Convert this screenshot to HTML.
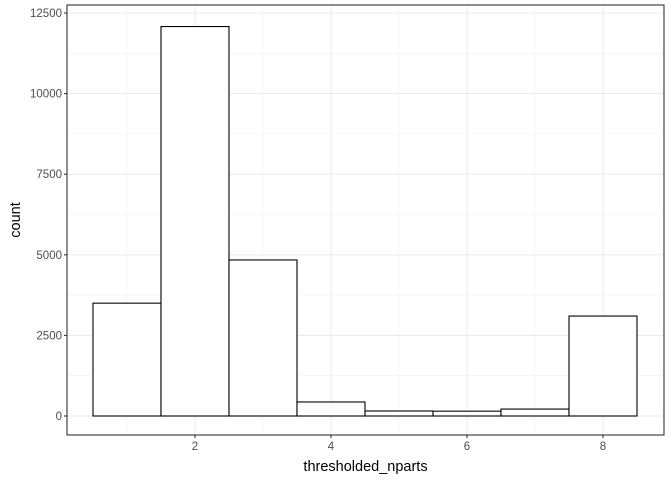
<!DOCTYPE html>
<html><head><meta charset="utf-8"><style>
html,body{margin:0;padding:0;background:#fff;}
svg{display:block;font-family:"Liberation Sans",Arial,sans-serif;}
</style></head><body>
<svg id="chart" width="672" height="480"></svg>
<script>
const categories = [1,2,3,4,5,6,7,8];
const counts = [3500,12080,4840,435,155,150,215,3100];
const yTicks = [0,2500,5000,7500,10000,12500];
const xTicks = [2,4,6,8];

const L=67,R=664,T=5,B=435;
const xs = v => 195 + (v-2)*68;
const ys = v => 416 - v*(80.6/2500);
const svg=document.getElementById('chart');
const NS='http://www.w3.org/2000/svg';
function mk(tag,attrs){const e=document.createElementNS(NS,tag);for(const k in attrs)e.setAttribute(k,attrs[k]);svg.appendChild(e);return e;}

const bg=mk('rect',{x:L,y:T,width:R-L,height:B-T,fill:'#fff'});



// minor grid
for(let i=0;i<yTicks.length-1;i++){const v=(yTicks[i]+yTicks[i+1])/2;
 const g=mk('line',{x1:L,x2:R,y1:ys(v),y2:ys(v),stroke:'#f2f2f2','stroke-width':0.6});
 
 }
[1,3,5,7].forEach(v=>{const g=mk('line',{x1:xs(v),x2:xs(v),y1:T,y2:B,stroke:'#f2f2f2','stroke-width':0.6});
 
 });
// major grid
yTicks.forEach(v=>{const g=mk('line',{x1:L,x2:R,y1:ys(v),y2:ys(v),stroke:'#ebebeb','stroke-width':1.1});
 
 });
xTicks.forEach(v=>{const g=mk('line',{x1:xs(v),x2:xs(v),y1:T,y2:B,stroke:'#ebebeb','stroke-width':1.1});
 
 });

// bars
categories.forEach((c,i)=>{const y=ys(counts[i]);
 const b=mk('rect',{x:xs(c-0.5),y:y,width:xs(c+0.5)-xs(c-0.5),height:ys(0)-y,fill:'#fff',stroke:'#000','stroke-width':1.1});
 
 });

const border=mk('rect',{x:L,y:T,width:R-L,height:B-T,fill:'none',stroke:'#333','stroke-width':1.1});



yTicks.forEach(v=>{
 const t=mk('line',{x1:L-3,x2:L,y1:ys(v),y2:ys(v),stroke:'#333','stroke-width':1.1});
 
 
 const l=mk('text',{x:L-5,y:ys(v)+4,'text-anchor':'end','font-size':11.5,fill:'#4d4d4d'});
 l.textContent=v;
 
 });
xTicks.forEach(v=>{
 const t=mk('line',{x1:xs(v),x2:xs(v),y1:B,y2:B+3,stroke:'#333','stroke-width':1.1});
 
 
 const l=mk('text',{x:xs(v),y:B+15,'text-anchor':'middle','font-size':11.5,fill:'#4d4d4d'});
 l.textContent=v;
 
 });

const xt=mk('text',{x:(L+R)/2,y:471,'text-anchor':'middle','font-size':14.5,fill:'#000'});
xt.textContent='thresholded_nparts';


const yt=mk('text',{x:0,y:0,'text-anchor':'middle','font-size':14.5,fill:'#000',transform:'translate(20,'+((T+B)/2)+') rotate(-90)'});
yt.textContent='count';


</script>
</body></html>
